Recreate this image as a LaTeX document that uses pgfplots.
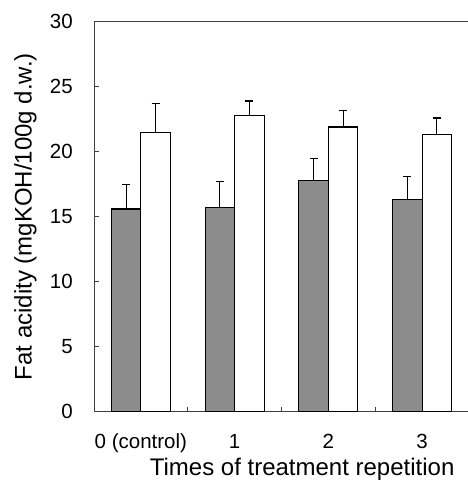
\documentclass[border=0pt]{standalone}
\usepackage{fontspec}
\setmainfont{Liberation Sans}
\usepackage{pgfplots}
\pgfplotsset{compat=1.18}
\begin{document}
\begin{tikzpicture}
\begin{axis}[
 name=ax,
 scale only axis, width=375pt, height=390pt,
 xmin=-0.5, xmax=3.5, ymin=0, ymax=30,
 ybar=0pt, bar width=29.5pt,
 ytick={0,5,...,30},
 xtick={0.5,1.5,2.5}, xticklabels={},
 extra x ticks={0,1,2,3},
 extra x tick labels={0 (control),1,2,3},
 extra x tick style={major tick length=0pt},
 tick align=inside, major tick length=5pt,
 xtick pos=bottom, ytick pos=left,
 axis line style={black!75, line width=0.8pt},
 tick style={black!75, line width=0.8pt},
 /pgf/number format/assume math mode=true,
 y tick label style={font=\fontsize{20.5}{22}\selectfont, inner sep=0pt, anchor=east, xshift=-21pt},
 x tick label style={font=\fontsize{20.5}{22}\selectfont, inner sep=0pt, anchor=north, yshift=-22pt},
 xlabel={Times of treatment repetition},
 ylabel={Fat acidity (mgKOH/100g d.w.)},
 xlabel style={font=\fontsize{24}{26}\selectfont, inner sep=0pt, at={(axis description cs:0.555,-0.1187)}, anchor=north},
 ylabel style={font=\fontsize{24}{26}\selectfont, inner sep=0pt, at={(axis description cs:-0.2133,0.5)}, anchor=north},
]
\addplot[fill=black!45, draw=black, line width=1.2pt,
  error bars/.cd, y dir=plus, y explicit,
  error bar style={line width=1.2pt, black},
  error mark options={rotate=90, black, line width=1.2pt, mark size=4pt}]
  coordinates {(0,15.6) +- (0,1.9) (1,15.7) +- (0,2.0) (2,17.8) +- (0,1.7) (3,16.3) +- (0,1.8)};
\addplot[fill=white, draw=black, line width=1.2pt,
  error bars/.cd, y dir=plus, y explicit,
  error bar style={line width=1.2pt, black},
  error mark options={rotate=90, black, line width=1.2pt, mark size=4pt}]
  coordinates {(0,21.5) +- (0,2.2) (1,22.8) +- (0,1.1) (2,21.9) +- (0,1.3) (3,21.3) +- (0,1.3)};
\end{axis}
\pgfresetboundingbox
\path ([xshift=-94pt,yshift=-68.3pt]ax.south west) rectangle ([xshift=373pt,yshift=411.7pt]ax.south west);
\end{tikzpicture}
\end{document}
